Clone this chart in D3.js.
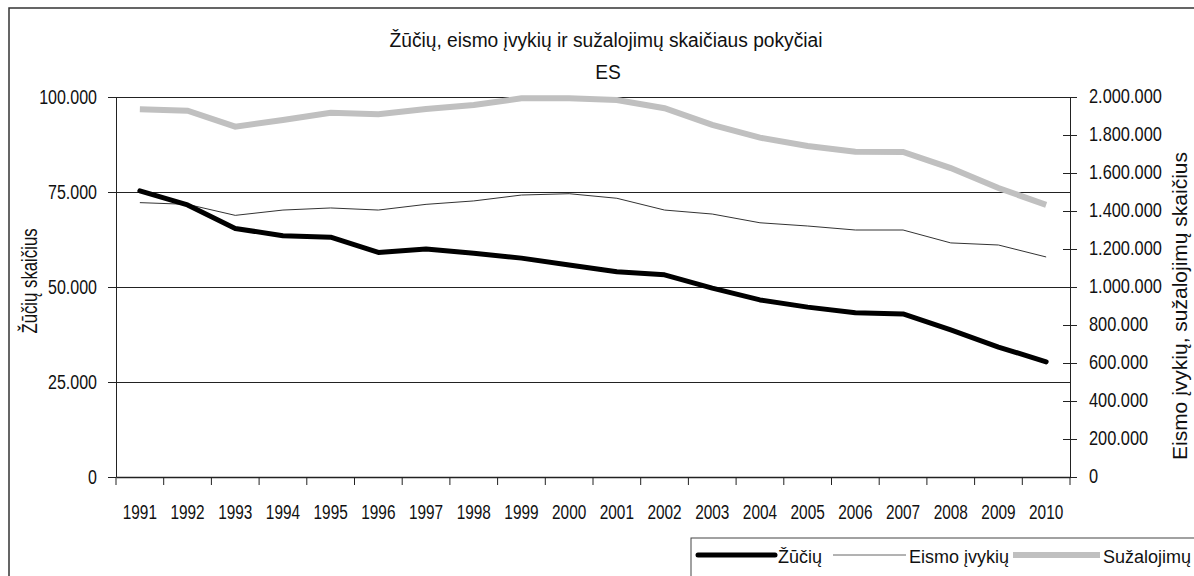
<!DOCTYPE html>
<html>
<head>
<meta charset="utf-8">
<script src="https://cdn.jsdelivr.net/npm/d3@7"></script>
<style>
  body { margin: 0; background: #fff; }
  text { font-family: "Liberation Sans", Arial, sans-serif; fill: #111; }
</style>
</head>
<body>
<script>
// data
var years = ["1991","1992","1993","1994","1995","1996","1997","1998","1999","2000",
             "2001","2002","2003","2004","2005","2006","2007","2008","2009","2010"];
var zuciu = [75300, 71600, 65400, 63500, 63100, 59100, 60000, 58900, 57600, 55800,
             54000, 53200, 49700, 46600, 44700, 43200, 42900, 38700, 34200, 30300];
var eismoIvykiu = [1444000, 1435000, 1377000, 1405000, 1416000, 1405000, 1435000, 1453000, 1484000, 1491000,
                   1467000, 1405000, 1384000, 1338000, 1321000, 1300000, 1300000, 1232000, 1221000, 1158000];
var suzalojimu = [1935000, 1928000, 1844000, 1879000, 1917000, 1909000, 1937000, 1958000, 1993000, 1993000,
                  1984000, 1941000, 1853000, 1786000, 1742000, 1712000, 1711000, 1626000, 1521000, 1432000];
var leftTicks = [0, 25000, 50000, 75000, 100000];
var rightTicks = [0, 200000, 400000, 600000, 800000, 1000000, 1200000, 1400000, 1600000, 1800000, 2000000];

var W = 1194, H = 576;
var pLeft = 116, pRight = 1070, pTop = 97, pBottom = 477;

var fmt = d3.formatLocale({decimal: ",", thousands: ".", grouping: [3], currency: ["", ""]}).format(",");

var svg = d3.select("body").append("svg")
    .attr("width", W)
    .attr("height", H);

// outer frame (runs off the right and bottom edges)
svg.append("rect")
    .attr("x", 9).attr("y", 8)
    .attr("width", 1200).attr("height", 600)
    .attr("fill", "none")
    .attr("stroke", "#333")
    .attr("stroke-width", 1.5);

var x = d3.scaleBand().domain(years).range([pLeft, pRight]);
var yL = d3.scaleLinear().domain([0, 100000]).range([pBottom, pTop]);
var yR = d3.scaleLinear().domain([0, 2000000]).range([pBottom, pTop]);

// restyle axis labels: narrow, tall text like the original
function styleLabels(sel, fs, sx, dx, dy, anchor) {
  sel.selectAll(".tick text")
     .attr("x", null).attr("y", null).attr("dy", null)
     .attr("text-anchor", anchor)
     .style("font-size", fs + "px")
     .attr("font-family", null)
     .attr("fill", "#111")
     .attr("transform", "translate(" + dx + "," + dy + ") scale(" + sx + ",1)");
}

// gridlines
svg.append("g")
    .attr("transform", "translate(" + pLeft + ",0)")
    .call(d3.axisLeft(yL).tickValues(leftTicks.slice(1)).tickSizeInner(-(pRight - pLeft)).tickSizeOuter(0).tickFormat(""))
    .call(function(g) {
      g.select(".domain").remove();
      g.selectAll(".tick line").attr("stroke", "#222");
    });

// left axis
var gL = svg.append("g")
    .attr("transform", "translate(" + pLeft + ",0)")
    .call(d3.axisLeft(yL).tickValues(leftTicks).tickSizeInner(8).tickSizeOuter(0).tickFormat(fmt));
gL.selectAll("path, line").attr("stroke", "#222");
styleLabels(gL, 20, 0.8, -19, 6.5, "end");

// right axis, ticks cross the line
var gR = svg.append("g")
    .attr("transform", "translate(" + pRight + ",0)")
    .call(d3.axisRight(yR).tickValues(rightTicks).tickSizeInner(7).tickSizeOuter(0).tickFormat(fmt));
gR.selectAll("path, line").attr("stroke", "#222");
gR.selectAll(".tick line").attr("x1", -7);
styleLabels(gR, 19.5, 0.84, 19, 5.5, "start");

// bottom axis: labels centred on categories, ticks on the boundaries
var gB = svg.append("g")
    .attr("transform", "translate(0," + pBottom + ")")
    .call(d3.axisBottom(x).tickSize(0).tickSizeOuter(0));
gB.select(".domain").attr("stroke", "#222").attr("stroke-width", 1.5);
styleLabels(gB, 20, 0.77, 0, 42, "middle");

svg.append("g").selectAll("line")
    .data(years.map(function(d) { return x(d); }).concat([x.range()[1]]))
    .enter().append("line")
    .attr("x1", function(d) { return d; })
    .attr("x2", function(d) { return d; })
    .attr("y1", pBottom)
    .attr("y2", pBottom + 8)
    .attr("stroke", "#222");

// series
function xc(i) { return x(years[i]) + x.bandwidth() / 2; }

var lineL = d3.line().x(function(d, i) { return xc(i); }).y(function(d) { return yL(d); });
var lineR = d3.line().x(function(d, i) { return xc(i); }).y(function(d) { return yR(d); });

svg.append("path").datum(suzalojimu)
    .attr("d", lineR)
    .attr("fill", "none")
    .attr("stroke", "#c0c0c0")
    .attr("stroke-width", 6);

svg.append("path").datum(eismoIvykiu)
    .attr("d", lineR)
    .attr("fill", "none")
    .attr("stroke", "#333")
    .attr("stroke-width", 1);

svg.append("path").datum(zuciu)
    .attr("d", lineL)
    .attr("fill", "none")
    .attr("stroke", "#000")
    .attr("stroke-width", 5)
    .attr("stroke-linecap", "round")
    .attr("stroke-linejoin", "round");

// titles
function label(txt, tx, ty, fs, sx, rot, anchor) {
  svg.append("text")
     .attr("text-anchor", anchor || "middle")
     .style("font-size", fs + "px")
     .attr("transform", "translate(" + tx + "," + ty + ") rotate(" + (rot || 0) + ") scale(" + sx + ",1)")
     .text(txt);
}

label("Žūčių, eismo įvykių ir sužalojimų skaičiaus pokyčiai", 606, 47, 20, 0.96);
label("ES", 608, 79, 20, 0.96);
label("Žūčių skaičius", 37, 281, 21.5, 0.78, -90);
label("Eismo įvykių, sužalojimų skaičius", 1187, 306, 21, 1, -90);

// legend
svg.append("rect")
    .attr("x", 691).attr("y", 538)
    .attr("width", 600).attr("height", 100)
    .attr("fill", "#fff")
    .attr("stroke", "#444")
    .attr("stroke-width", 1);

var legendItems = [
  {name: "Žūčių", x1: 698, x2: 775, color: "#000", w: 5, cap: "round"},
  {name: "Eismo įvykių", x1: 833, x2: 906, color: "#666", w: 1, cap: "butt"},
  {name: "Sužalojimų", x1: 1013, x2: 1100, color: "#c0c0c0", w: 6, cap: "butt"}
];
var lg = svg.append("g").selectAll("g").data(legendItems).enter().append("g");
lg.append("line")
    .attr("x1", function(d) { return d.x1; })
    .attr("x2", function(d) { return d.x2; })
    .attr("y1", 555).attr("y2", 555)
    .attr("stroke", function(d) { return d.color; })
    .attr("stroke-width", function(d) { return d.w; })
    .attr("stroke-linecap", function(d) { return d.cap; });
lg.append("text")
    .attr("x", function(d) { return d.x2 + 3; })
    .attr("y", 563)
    .style("font-size", "18px")
    .text(function(d) { return d.name; });
</script>
</body>
</html>
